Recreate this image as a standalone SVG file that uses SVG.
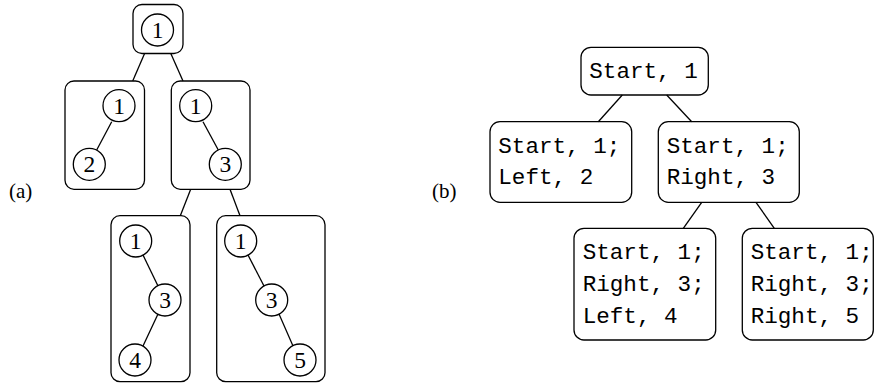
<svg xmlns="http://www.w3.org/2000/svg" width="875" height="383" viewBox="0 0 875 383">
<style>
.box{fill:none;stroke:#000;stroke-width:1.3}
.c{fill:#fff;stroke:#000;stroke-width:1.3}
.e{stroke:#000;stroke-width:1.3;fill:none}
.d{font-family:"Liberation Serif",serif;font-size:23.5px;text-anchor:middle;dominant-baseline:central}
.lab{font-family:"Liberation Serif",serif;font-size:21px}
.m{font-family:"Liberation Mono",monospace;font-size:22.6px}
</style>
<rect width="875" height="383" fill="#fff"/>
<text class="lab" x="9" y="198">(a)</text>
<text class="lab" x="432" y="198">(b)</text>
<g id="connectors">
<line class="e" x1="144.7" y1="53.3" x2="132.7" y2="81"/>
<line class="e" x1="170.7" y1="53.3" x2="183" y2="81"/>
<line class="e" x1="190.7" y1="189.3" x2="180.3" y2="215.7"/>
<line class="e" x1="230" y1="189.3" x2="240" y2="215.7"/>
<line class="e" x1="622.3" y1="95" x2="598.3" y2="121.7"/>
<line class="e" x1="666.7" y1="95" x2="691.7" y2="121.7"/>
<line class="e" x1="701.7" y1="202.3" x2="683.3" y2="228.3"/>
<line class="e" x1="756" y1="202.3" x2="774.3" y2="228.3"/>
</g>
<g id="a_root">
<rect class="box" x="133" y="4.5" width="50" height="49" rx="9"/>
<circle class="c" cx="157.5" cy="30" r="16"/>
<text class="d" x="157.5" y="30">1</text>
</g>
<g id="a_left">
<rect class="box" x="65" y="81" width="79.5" height="108.3" rx="9"/>
<line class="e" x1="111.7" y1="121.7" x2="96.7" y2="150"/>
<circle class="c" cx="119" cy="105.7" r="16"/>
<text class="d" x="119" y="105.7">1</text>
<circle class="c" cx="89.3" cy="164.3" r="16"/>
<text class="d" x="89.3" y="164.3">2</text>
</g>
<g id="a_right">
<rect class="box" x="171.3" y="81" width="78.7" height="108.3" rx="9"/>
<line class="e" x1="203" y1="121.7" x2="218.3" y2="150"/>
<circle class="c" cx="195.7" cy="105.7" r="16"/>
<text class="d" x="195.7" y="105.7">1</text>
<circle class="c" cx="225.3" cy="164.3" r="16"/>
<text class="d" x="225.3" y="164.3">3</text>
</g>
<g id="a_rl">
<rect class="box" x="111" y="215.7" width="79" height="166" rx="9"/>
<line class="e" x1="143" y1="255" x2="158" y2="286"/>
<line class="e" x1="158" y1="314" x2="143" y2="346"/>
<circle class="c" cx="135.7" cy="241" r="16"/>
<text class="d" x="135.7" y="241">1</text>
<circle class="c" cx="165" cy="300" r="16"/>
<text class="d" x="165" y="300">3</text>
<circle class="c" cx="135" cy="360" r="16"/>
<text class="d" x="135" y="360">4</text>
</g>
<g id="a_rr">
<rect class="box" x="216.7" y="215.7" width="108.3" height="166" rx="9"/>
<line class="e" x1="248" y1="255" x2="264" y2="286"/>
<line class="e" x1="279" y1="314" x2="293" y2="346"/>
<circle class="c" cx="240.7" cy="241" r="16"/>
<text class="d" x="240.7" y="241">1</text>
<circle class="c" cx="271.7" cy="300" r="16"/>
<text class="d" x="271.7" y="300">3</text>
<circle class="c" cx="300" cy="360" r="16"/>
<text class="d" x="300" y="360">5</text>
</g>
<g id="b_root">
<rect class="box" x="581" y="47.3" width="127.3" height="47.7" rx="10"/>
<text class="m" x="589.3" y="78.3">Start, 1</text>
</g>
<g id="b_left">
<rect class="box" x="490" y="121.7" width="141.7" height="80.6" rx="10"/>
<text class="m" x="498.3" y="153.3">Start, 1;</text>
<text class="m" x="498.3" y="184.3">Left, 2</text>
</g>
<g id="b_right">
<rect class="box" x="658.3" y="121.7" width="141" height="80.6" rx="10"/>
<text class="m" x="666.7" y="153.3">Start, 1;</text>
<text class="m" x="666.7" y="184.3">Right, 3</text>
</g>
<g id="b_rl">
<rect class="box" x="574" y="228.3" width="141.7" height="111.7" rx="10"/>
<text class="m" x="582.7" y="259.3">Start, 1;</text>
<text class="m" x="582.7" y="291">Right, 3;</text>
<text class="m" x="582.7" y="323">Left, 4</text>
</g>
<g id="b_rr">
<rect class="box" x="742.3" y="228.3" width="131" height="111.7" rx="10"/>
<text class="m" x="750.7" y="259.3">Start, 1;</text>
<text class="m" x="750.7" y="291">Right, 3;</text>
<text class="m" x="750.7" y="323">Right, 5</text>
</g>
</svg>
